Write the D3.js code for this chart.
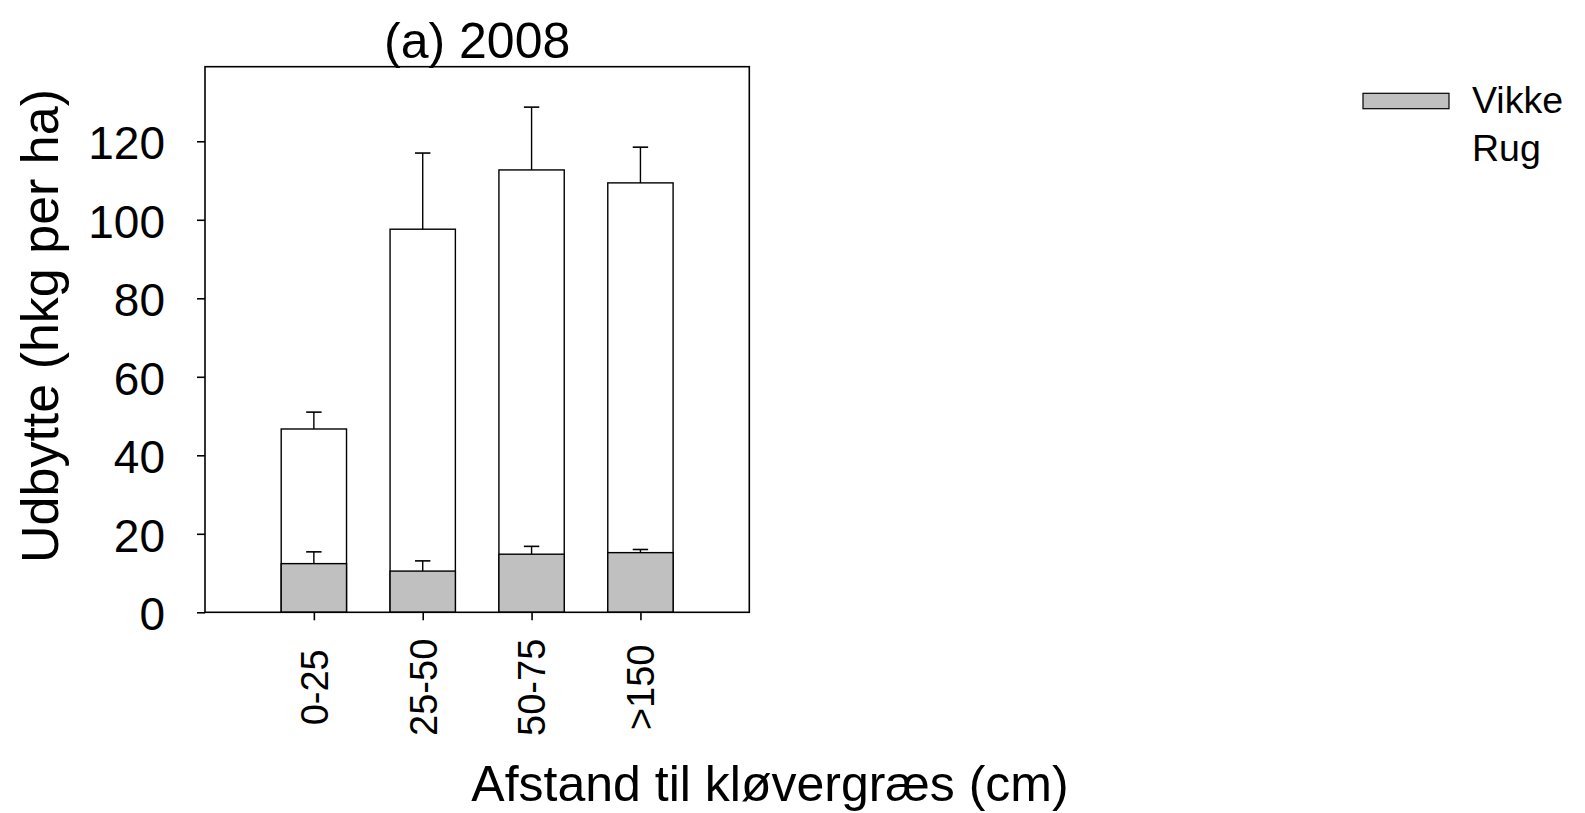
<!DOCTYPE html>
<html>
<head>
<meta charset="utf-8">
<script src="https://cdn.jsdelivr.net/npm/d3@7"></script>
<style>
  html, body { margin: 0; padding: 0; background: #fff; }
  svg { display: block; font-family: "Liberation Sans", Arial, sans-serif; }
</style>
</head>
<body>
<svg id="chart" width="1585" height="813"></svg>
<script>
// ---- data ----
const categories = ["0-25", "25-50", "50-75", ">150"];
const vikke      = [12.4, 10.5, 14.8, 15.2];
const vikkeErr   = [3.0, 2.6, 2.0, 0.8];
const rug        = [34.3, 87.1, 97.9, 94.2];
const rugErr     = [4.3, 19.4, 16.0, 9.1];
const yTicks     = [0, 20, 40, 60, 80, 100, 120];
const seriesNames = ["Vikke", "Rug"];
const titleText = "(a) 2008";
const xTitle = "Afstand til kløvergræs (cm)";
const yTitle = "Udbytte (hkg per ha)";

// ---- layout ----
const pL = 205, pR = 749.3, pT = 66.7, pB = 612.3;
const svg = d3.select("#chart");

const rows = categories.map((c, i) => ({ cat: c, idx: i + 1, Vikke: vikke[i], Rug: rug[i], errV: vikkeErr[i], errR: rugErr[i] }));
const stack = d3.stack().keys(seriesNames)(rows);
const vikLayer = stack[0], rugLayer = stack[1];

const x = d3.scaleLinear().domain([0, categories.length + 1]).range([pL, pR]);
const y = d3.scaleLinear().domain([0, 139]).range([pB, pT]);
const barW = 0.6 * (x(1) - x(0));
const fills = { Vikke: "#c0c0c0", Rug: "#ffffff" };

function errBar(g, cx, v, e) {
  const yTop = y(v), yErr = y(v + e);
  g.append("line").attr("x1", cx).attr("x2", cx).attr("y1", yTop).attr("y2", yErr)
    .attr("stroke", "#000").attr("stroke-width", 1.4);
  g.append("line").attr("x1", cx - 7.7).attr("x2", cx + 7.7).attr("y1", yErr).attr("y2", yErr)
    .attr("stroke", "#000").attr("stroke-width", 1.6);
}

// Rug: stacked column (white) drawn from 0 up to the total
svg.append("g").selectAll("rect").data(rugLayer).join("rect")
  .attr("x", d => x(d.data.idx) - barW / 2)
  .attr("width", barW)
  .attr("y", d => y(d[1]))
  .attr("height", d => y(0) - y(d[1]))
  .attr("fill", fills.Rug).attr("stroke", "#000").attr("stroke-width", 1.4);
const eg = svg.append("g");
rugLayer.forEach(d => errBar(eg, x(d.data.idx), d[1], d.data.errR));
vikLayer.forEach(d => errBar(eg, x(d.data.idx), d[1], d.data.errV));
// Vikke
svg.append("g").selectAll("rect").data(vikLayer).join("rect")
  .attr("x", d => x(d.data.idx) - barW / 2)
  .attr("width", barW)
  .attr("y", d => y(d[1]))
  .attr("height", d => y(d[0]) - y(d[1]))
  .attr("fill", fills.Vikke).attr("stroke", "#000").attr("stroke-width", 1.4);

// frame
svg.append("rect").attr("x", pL).attr("y", pT).attr("width", pR - pL).attr("height", pB - pT)
  .attr("fill", "none").attr("stroke", "#000").attr("stroke-width", 1.6);

// y axis
const yAxis = svg.append("g").attr("transform", `translate(${pL},0)`)
  .call(d3.axisLeft(y).tickValues(yTicks).tickSize(8).tickPadding(32).tickFormat(d3.format("d")));
yAxis.select(".domain").remove();
yAxis.selectAll(".tick line").attr("stroke", "#000").attr("stroke-width", 1.6);
yAxis.selectAll(".tick text").attr("font-size", 46).attr("fill", "#000")
  .attr("font-family", "'Liberation Sans', Arial, sans-serif").attr("dy", "0.38em");

// x axis
const xAxis = svg.append("g").attr("transform", `translate(0,${pB})`)
  .call(d3.axisBottom(x).tickValues(rows.map(r => r.idx)).tickSize(8)
    .tickFormat(i => categories[i - 1]));
xAxis.select(".domain").remove();
xAxis.selectAll(".tick line").attr("stroke", "#000").attr("stroke-width", 1.6);
xAxis.selectAll(".tick text")
  .attr("font-size", 38).attr("fill", "#000")
  .attr("font-family", "'Liberation Sans', Arial, sans-serif")
  .attr("text-anchor", "middle")
  .attr("transform", "translate(0,75) rotate(-90)")
  .attr("x", 0).attr("y", 0).attr("dy", "0.35em");

// titles
svg.append("text").attr("x", (pL + pR) / 2).attr("y", 57.5).attr("text-anchor", "middle")
  .attr("font-size", 50).attr("fill", "#000").text(titleText);
svg.append("text").attr("x", 770).attr("y", 801).attr("text-anchor", "middle")
  .attr("font-size", 50).attr("fill", "#000").text(xTitle);
svg.append("text").attr("transform", "translate(58,326) rotate(-90)").attr("text-anchor", "middle")
  .attr("font-size", 52).attr("fill", "#000").text(yTitle);

// legend
const leg = svg.append("g");
leg.append("rect").attr("x", 1363).attr("y", 93.3).attr("width", 86).attr("height", 15.4)
  .attr("fill", fills.Vikke).attr("stroke", "#000").attr("stroke-width", 1.2);
seriesNames.forEach((n, i) => {
  leg.append("text").attr("x", 1472).attr("y", 112.5 + i * 48).attr("font-size", 37.5)
    .attr("fill", "#000").text(n);
});
</script>
</body>
</html>
